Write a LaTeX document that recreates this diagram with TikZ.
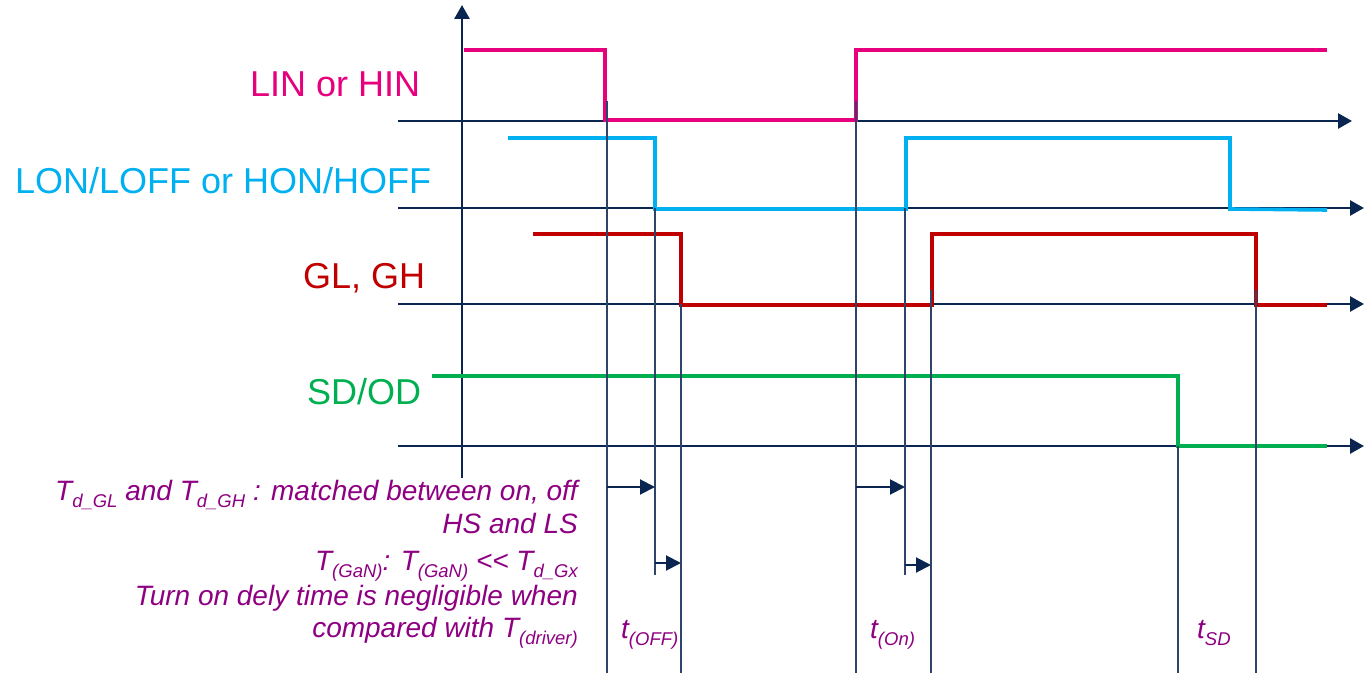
\documentclass[tikz,border=0pt]{standalone}
\usepackage{fontspec}
\setmainfont{Liberation Sans}
\usetikzlibrary{arrows.meta}
\definecolor{navy}{HTML}{0A2650}
\definecolor{tlinec}{HTML}{2E4468}
\definecolor{pinkc}{HTML}{E6007E}
\definecolor{cyanc}{HTML}{00B0F0}
\definecolor{redc}{HTML}{C00000}
\definecolor{greenc}{HTML}{00B050}
\definecolor{purplec}{HTML}{8E0082}
\newcommand{\lowsub}[1]{\raisebox{-0.28em}{\fontsize{18.5}{19}\selectfont #1}}
\begin{document}
\begin{tikzpicture}[x=1pt,y=-1pt,
  axis/.style={navy, line width=2.8pt, -{Triangle[length=14pt,width=15pt]}},
  sig/.style={line width=3.6pt, line join=miter},
  tline/.style={tlinec, line width=1.6pt},
  tarrow/.style={navy, line width=2pt, -{Triangle[length=15pt,width=15pt]}},
  lbl/.style={font=\fontsize{36}{40}\selectfont, inner sep=0pt, anchor=base west},
  note/.style={font=\fontsize{28}{32}\selectfont\itshape, text=purplec, inner sep=0pt, anchor=base east},
  tlbl/.style={font=\fontsize{28}{32}\selectfont\itshape, text=purplec, inner sep=0pt, anchor=base west}]
\useasboundingbox (0,0) rectangle (1364,676);

% axes
\coordinate (vb) at (462,478);
\coordinate (vt) at (462,5);
\coordinate (a1s) at (398,121); \coordinate (a1e) at (1352,121);
\coordinate (a2s) at (398,208); \coordinate (a2e) at (1364,208);
\coordinate (a3s) at (398,304); \coordinate (a3e) at (1364,304);
\coordinate (a4s) at (398,446); \coordinate (a4e) at (1364,446);
\draw[axis] (vb) -- (vt);
\draw[axis] (a1s) -- (a1e);
\draw[axis] (a2s) -- (a2e);
\draw[axis] (a3s) -- (a3e);
\draw[axis] (a4s) -- (a4e);

% signals
\draw[sig, pinkc] (464,50) -| (605,120) -| (856,50) -- (1327,50);
\draw[sig, cyanc] (508,138) -| (655,209) -| (906,138) -| (1230,209) -- (1327,210);
\draw[sig, redc] (533,234) -| (681,305) -| (932,234) -| (1256,305) -- (1327,305);
\draw[sig, greenc] (432,376) -| (1178,446) -- (1327,446);

% timing lines
\coordinate (v1t) at (607,101); \coordinate (v1b) at (607,673);
\coordinate (v2t) at (655,208); \coordinate (v2b) at (655,575);
\coordinate (v3t) at (681,304); \coordinate (v3b) at (681,673);
\coordinate (v4t) at (856,101); \coordinate (v4b) at (856,673);
\coordinate (v5t) at (905,208); \coordinate (v5b) at (905,575);
\coordinate (v6t) at (931,290); \coordinate (v6b) at (931,673);
\coordinate (v7t) at (1178,446); \coordinate (v7b) at (1178,673);
\coordinate (v8t) at (1256,290); \coordinate (v8b) at (1256,673);
\foreach \i in {1,...,8} {\draw[tline] (v\i t) -- (v\i b);}

% delay arrows
\coordinate (d1s) at (607,487); \coordinate (d1e) at (655,487);
\coordinate (d2s) at (655,563); \coordinate (d2e) at (681,563);
\coordinate (d3s) at (856,487); \coordinate (d3e) at (905,487);
\coordinate (d4s) at (905,565); \coordinate (d4e) at (931,565);
\draw[tarrow] (d1s) -- (d1e);
\draw[tarrow] (d2s) -- (d2e);
\draw[tarrow] (d3s) -- (d3e);
\draw[tarrow] (d4s) -- (d4e);

% signal labels
\node[lbl, text=pinkc] (lin) at (250,97) {LIN or HIN};
\node[lbl, text=cyanc] (lon) at (15,194) {LON/LOFF or HON/HOFF};
\node[lbl, text=redc] (gl) at (303,288) {GL, GH};
\node[lbl, text=greenc] (sd) at (307,404) {SD/OD};

% notes
\node[note] (n1) at (578,500) {T\lowsub{d\_GL} and T\lowsub{d\_GH} : matched between on, off};
\node[note] (n2) at (578,533) {HS and LS};
\node[note] (n3) at (578,570) {T\lowsub{(GaN)}: T\lowsub{(GaN)} <{}< T\lowsub{d\_Gx}};
\node[note] (n4) at (578,605) {Turn on dely time is negligible when};
\node[note] (n5) at (578,637) {compared with T\lowsub{(driver)}};

% timing labels
\node[tlbl] (toff) at (621,638) {t\lowsub{(OFF)}};
\node[tlbl] (ton) at (870,638) {t\lowsub{(On)}};
\node[tlbl] (tsd) at (1197,638) {t\lowsub{SD}};
\end{tikzpicture}
\end{document}
